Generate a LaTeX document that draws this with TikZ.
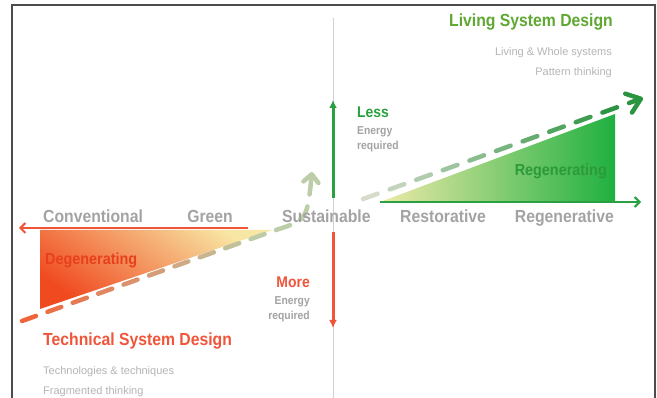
\documentclass[tikz,border=0pt]{standalone}
\usepackage{fontspec}
\setmainfont{Liberation Sans}
\newfontfamily\condfont[FakeStretch=0.9]{Liberation Sans}
\usetikzlibrary{arrows.meta,calc}

\definecolor{lsgreen}{HTML}{5FA832}
\definecolor{dkgreen}{HTML}{2C9A3A}
\definecolor{arrgreen}{HTML}{2AA040}
\definecolor{tsred}{HTML}{F0553A}
\definecolor{dgred}{HTML}{E8401C}
\definecolor{axgray}{HTML}{A3A3A3}
\definecolor{ntgray}{HTML}{B5B5B5}
\definecolor{dashred}{HTML}{F0643C}
\definecolor{palegreen}{HTML}{BCCDA8}
\definecolor{dashpale}{HTML}{D6DCCC}
\definecolor{dashgreen}{HTML}{2A9440}
\definecolor{trired}{HTML}{F04A20}
\definecolor{triorange}{HTML}{F58E58}
\definecolor{triyel}{HTML}{F8E6A4}
\definecolor{triyel2}{HTML}{EEEAA8}
\definecolor{trimid}{HTML}{9CC85A}
\definecolor{trigreen}{HTML}{1FB040}

\begin{document}
\begin{tikzpicture}[x=1pt, y=-1pt,
	ax/.style={font=\condfont\bfseries\fontsize{17.5}{18}\selectfont, text=axgray, inner sep=0pt, anchor=base west},
	hd/.style={font=\condfont\bfseries\fontsize{17.5}{18}\selectfont, inner sep=0pt},
	tri/.style={font=\condfont\bfseries\fontsize{16}{18}\selectfont, inner sep=0pt},
	lm/.style={font=\condfont\bfseries\fontsize{15.5}{18}\selectfont, inner sep=0pt},
	en/.style={font=\condfont\bfseries\fontsize{11.5}{13}\selectfont, text=axgray, inner sep=0pt},
	nt/.style={font=\fontsize{11}{13}\selectfont, text=ntgray, inner sep=0pt},
	dash1/.style={line width=4.5pt, line cap=round}]
	\fill[white] (0,0) rectangle (657,398);
	\useasboundingbox (0,0) rectangle (657,398);
	% frame and middle axis
	\draw[black!70, line width=1.5pt] (12,398) -- (12,5) -- (655,5) -- (655,398);
	\coordinate (vtop) at (333,18);
	\coordinate (vbot) at (333,398);
	\draw[black!18, line width=1pt] (vtop) -- (vbot);
	% shaded triangles
	\shade[bottom color=trired, middle color=triorange, top color=triyel, shading angle=-35] (40,230) -- (272,230) -- (40,309) -- cycle;
	\shade[left color=triyel2, middle color=trimid, right color=trigreen] (380,202) -- (615,202) -- (615,114) -- cycle;
	% axis arrows
	\coordinate (rls) at (248,228);
	\coordinate (rle) at (19,228);
	\coordinate (gls) at (380,202);
	\coordinate (gle) at (641,202);
	\draw[tsred, line width=2pt, -{Straight Barb[length=5pt,width=10pt]}] (rls) -- (rle);
	\draw[arrgreen, line width=2pt, -{Straight Barb[length=5pt,width=10pt]}] (gls) -- (gle);
	\coordinate (ups) at (333,198);
	\coordinate (upe) at (333,100);
	\coordinate (dns) at (333,232);
	\coordinate (dne) at (333,328);
	\draw[arrgreen, line width=3pt, -{Latex[length=8pt,width=8pt]}] (ups) -- (upe);
	\draw[tsred, line width=3pt, -{Latex[length=8pt,width=8pt]}] (dns) -- (dne);
	% dashed trend line, one dash at a time
	\coordinate (d1s) at (22,321);
	\coordinate (d1e) at (276,230);
	\foreach \i in {0,...,9}{
		\pgfmathsetmacro\ta{\i/10}
		\pgfmathsetmacro\tb{(\i+0.55)/10}
		\pgfmathtruncatemacro\pc{\i*11}
		\draw[dash1, color=palegreen!\pc!dashred] ($(d1s)!\ta!(d1e)$) -- ($(d1s)!\tb!(d1e)$);
	}
	\coordinate (cvc) at (307,220);
	\coordinate (cvt) at (312,172);
	\draw[dash1, palegreen, dash pattern=on 14.8pt off 12.2pt, -{Straight Barb[length=8pt,width=15pt,round]}] (d1e) .. controls (cvc) .. (cvt);
	\coordinate (d2s) at (363,199);
	\coordinate (d2e) at (629,103);
	\coordinate (d2t) at (643,98);
	\foreach \i in {0,...,9}{
		\pgfmathsetmacro\ta{\i/10}
		\pgfmathsetmacro\tb{(\i+0.55)/10}
		\pgfmathtruncatemacro\pc{\i*11}
		\draw[dash1, color=dashgreen!\pc!dashpale] ($(d2s)!\ta!(d2e)$) -- ($(d2s)!\tb!(d2e)$);
	}
	\draw[dash1, dashgreen, -{Straight Barb[length=13pt,width=20pt,round]}] (d2e) -- (d2t);
	% headings
	\node[hd, text=lsgreen, anchor=base east] (lsd) at (613,27) {Living System Design};
	\node[nt, anchor=base east] (lsd1) at (612,56) {Living \& Whole systems};
	\node[nt, anchor=base east] (lsd2) at (612,76) {Pattern thinking};
	\node[hd, text=tsred, anchor=base west] (tsd) at (43,345.5) {Technical System Design};
	\node[nt, anchor=base west] (tsd1) at (43,375) {Technologies \& techniques};
	\node[nt, anchor=base west] (tsd2) at (43,395) {Fragmented thinking};
	% axis labels
	\node[ax] (conv) at (43,223) {Conventional};
	\node[ax, anchor=base east] (grn) at (233,223) {Green};
	\node[ax] (sust) at (282,223) {Sustainable};
	\node[ax] (rest) at (400,223) {Restorative};
	\node[ax, anchor=base east] (regv) at (614,223) {Regenerative};
	% triangle labels
	\node[tri, text=dgred, anchor=base west] (degen) at (45,265) {Degenerating};
	\node[tri, text=dkgreen, anchor=base east] (regen) at (607,176) {Regenerating};
	% energy labels
	\node[lm, text=arrgreen, anchor=base west] (less) at (357,118) {Less};
	\node[en, anchor=base west] (lessE) at (357,135) {Energy};
	\node[en, anchor=base west] (lessR) at (357,150) {required};
	\node[lm, text=tsred, anchor=base east] (more) at (310,288) {More};
	\node[en, anchor=base east] (moreE) at (310,304.5) {Energy};
	\node[en, anchor=base east] (moreR) at (310,320) {required};
\end{tikzpicture}
\end{document}
